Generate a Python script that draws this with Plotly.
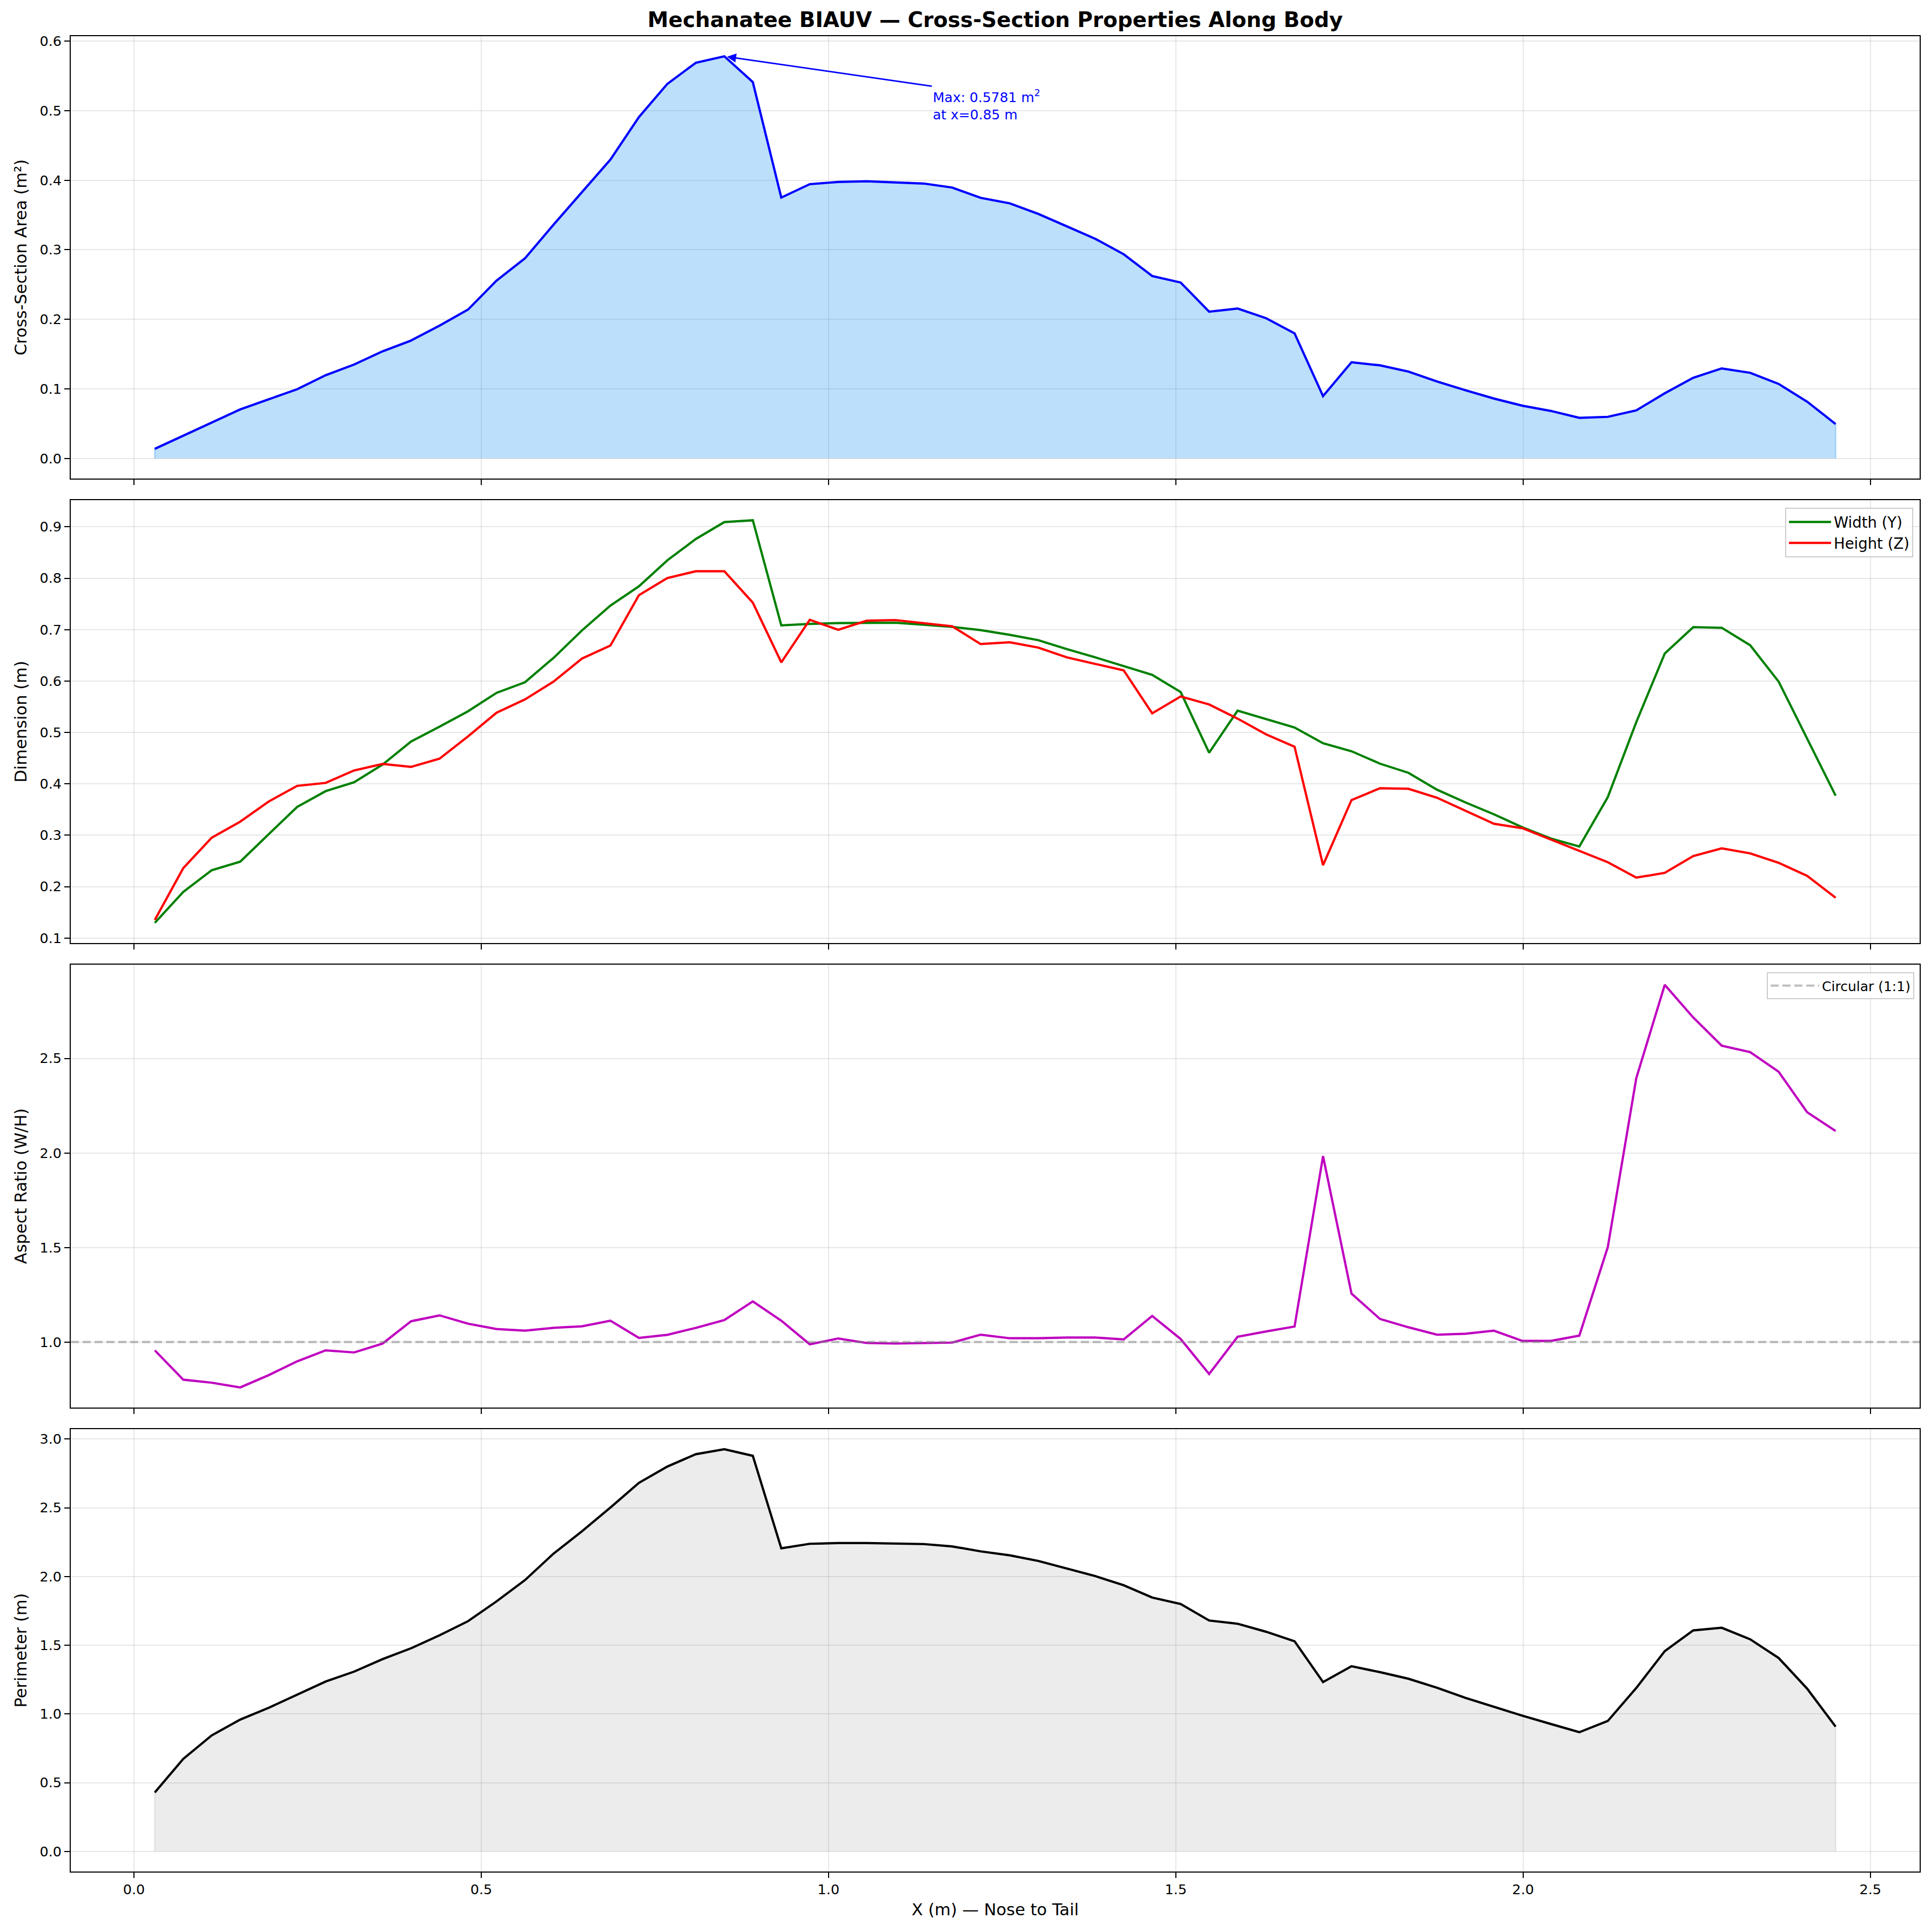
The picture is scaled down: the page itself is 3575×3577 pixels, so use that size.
import plotly.graph_objects as go

# ---------------- data ----------------
X_M = [0.030, 0.071, 0.112, 0.153, 0.194, 0.235, 0.276, 0.317, 0.358, 0.399,
       0.440, 0.481, 0.522, 0.563, 0.604, 0.645, 0.686, 0.727, 0.768, 0.809,
       0.850, 0.891, 0.932, 0.973, 1.014, 1.055, 1.096, 1.137, 1.178, 1.219,
       1.261, 1.302, 1.343, 1.384, 1.425, 1.466, 1.507, 1.548, 1.589, 1.630,
       1.671, 1.712, 1.753, 1.794, 1.835, 1.876, 1.917, 1.958, 1.999, 2.040,
       2.081, 2.122, 2.163, 2.204, 2.245, 2.286, 2.327, 2.368, 2.409, 2.450]

AREA_M2 = [0.0138, 0.0326, 0.0517, 0.0705, 0.0850, 0.0995, 0.1196, 0.1350, 0.1540, 0.1695,
           0.1910, 0.2140, 0.2556, 0.2877, 0.3360, 0.3830, 0.4296, 0.4907, 0.5385, 0.5688,
           0.5781, 0.5410, 0.3750, 0.3943, 0.3975, 0.3984, 0.3966, 0.3952, 0.3894, 0.3747,
           0.3667, 0.3515, 0.3337, 0.3158, 0.2935, 0.2623, 0.2529, 0.2110, 0.2155, 0.2016,
           0.1798, 0.0897, 0.1383, 0.1338, 0.1249, 0.1106, 0.0981, 0.0861, 0.0758, 0.0683,
           0.0584, 0.0598, 0.0691, 0.0937, 0.1160, 0.1294, 0.1231, 0.1071, 0.0816, 0.0495]

WIDTH_Y_M = [0.1294, 0.1898, 0.2319, 0.2486, 0.3020, 0.3551, 0.3857, 0.4030, 0.4375, 0.4824,
             0.5112, 0.5412, 0.5769, 0.5976, 0.6449, 0.6984, 0.7468, 0.7842, 0.8349, 0.8764,
             0.9092, 0.9127, 0.7082, 0.7111, 0.7128, 0.7134, 0.7134, 0.7094, 0.7053, 0.6990,
             0.6898, 0.6794, 0.6621, 0.6460, 0.6287, 0.6120, 0.5786, 0.4605, 0.5423, 0.5256,
             0.5095, 0.4790, 0.4634, 0.4392, 0.4214, 0.3886, 0.3638, 0.3407, 0.3154, 0.2935,
             0.2780, 0.3742, 0.5200, 0.6535, 0.7047, 0.7036, 0.6696, 0.5988, 0.4876, 0.3770]

HEIGHT_Z_M = [0.1351, 0.2359, 0.2952, 0.3263, 0.3655, 0.3960, 0.4018, 0.4260, 0.4387, 0.4329,
              0.4490, 0.4922, 0.5383, 0.5642, 0.5988, 0.6437, 0.6690, 0.7670, 0.8003, 0.8136,
              0.8136, 0.7525, 0.6362, 0.7191, 0.6996, 0.7174, 0.7186, 0.7122, 0.7065, 0.6719,
              0.6754, 0.6650, 0.6460, 0.6333, 0.6207, 0.5371, 0.5700, 0.5544, 0.5268, 0.4963,
              0.4721, 0.2417, 0.3684, 0.3914, 0.3903, 0.3730, 0.3482, 0.3223, 0.3137, 0.2918,
              0.2688, 0.2474, 0.2175, 0.2267, 0.2595, 0.2745, 0.2647, 0.2463, 0.2209, 0.1783]

ASPECT_WH = [0.956, 0.801, 0.785, 0.760, 0.825, 0.898, 0.956, 0.945, 0.992, 1.110,
             1.141, 1.097, 1.069, 1.060, 1.075, 1.083, 1.113, 1.022, 1.038, 1.075,
             1.116, 1.215, 1.113, 0.988, 1.019, 0.995, 0.992, 0.995, 0.997, 1.039,
             1.020, 1.020, 1.024, 1.024, 1.014, 1.138, 1.016, 0.831, 1.028, 1.056,
             1.082, 1.983, 1.256, 1.122, 1.078, 1.039, 1.044, 1.060, 1.006, 1.006,
             1.034, 1.502, 2.395, 2.889, 2.716, 2.567, 2.533, 2.429, 2.215, 2.116]

PERIMETER_M = [0.429, 0.673, 0.844, 0.959, 1.045, 1.141, 1.236, 1.308, 1.399, 1.478,
               1.572, 1.675, 1.819, 1.974, 2.166, 2.329, 2.502, 2.681, 2.800, 2.890,
               2.926, 2.878, 2.205, 2.238, 2.243, 2.243, 2.238, 2.236, 2.219, 2.183,
               2.154, 2.113, 2.058, 2.003, 1.936, 1.847, 1.800, 1.680, 1.656, 1.598,
               1.529, 1.232, 1.347, 1.304, 1.256, 1.191, 1.117, 1.052, 0.987, 0.927,
               0.867, 0.949, 1.189, 1.457, 1.608, 1.627, 1.543, 1.407, 1.184, 0.908]

CIRCULAR_RATIO = 1.0

TITLE = "Mechanatee BIAUV \u2014 Cross-Section Properties Along Body"
X_TITLE = "X (m) \u2014 Nose to Tail"
Y_TITLES = ["Cross-Section Area (m\u00b2)", "Dimension (m)", "Aspect Ratio (W/H)", "Perimeter (m)"]

# ---------------- layout constants ----------------
W, H = 3575, 3577
ML, MR, MT, MB = 131, 21, 67, 112
PH = H - MT - MB
FONT = "DejaVu Sans"
TICK_SIZE = 25.5
LABEL_SIZE = 30.5
TITLE_SIZE = 38.9
GRID = "rgba(176,176,176,0.3)"
LW = 4.2


def dom(top_px, bot_px):
    return [(H - MB - bot_px) / PH, (H - MB - top_px) / PH]


PANELS = [(67, 886), (926, 1746), (1786, 2606), (2646, 3465)]
YRANGES = [[-0.0289, 0.607], [0.0902, 0.9519], [0.6536, 2.9955], [-0.1463, 3.072]]
YDTICK = [0.1, 0.1, 0.5, 0.5]
XRANGE = [-0.091, 2.571]

fig = go.Figure()

# Panel 1: area fill + line
fx = [X_M[0]] + X_M + [X_M[-1]]
fig.add_trace(go.Scatter(x=fx, y=[0] + AREA_M2 + [0], fill="toself",
                         fillcolor="rgba(33,150,243,0.3)",
                         line=dict(color="rgba(33,150,243,0.3)", width=2.8),
                         mode="lines", showlegend=False, hoverinfo="skip",
                         xaxis="x", yaxis="y"))
fig.add_trace(go.Scatter(x=X_M, y=AREA_M2, mode="lines",
                         line=dict(color="blue", width=LW),
                         showlegend=False, xaxis="x", yaxis="y"))

# Panel 2: width / height
fig.add_trace(go.Scatter(x=X_M, y=WIDTH_Y_M, mode="lines", name="Width (Y)",
                         line=dict(color="green", width=LW), legend="legend",
                         xaxis="x2", yaxis="y2"))
fig.add_trace(go.Scatter(x=X_M, y=HEIGHT_Z_M, mode="lines", name="Height (Z)",
                         line=dict(color="red", width=LW), legend="legend",
                         xaxis="x2", yaxis="y2"))

# Panel 3: aspect ratio
fig.add_trace(go.Scatter(x=X_M, y=ASPECT_WH, mode="lines",
                         line=dict(color="#bf00bf", width=LW), showlegend=False,
                         xaxis="x3", yaxis="y3"))
fig.add_shape(type="line", xref="x3 domain", x0=0, x1=1, yref="y3",
              y0=CIRCULAR_RATIO, y1=CIRCULAR_RATIO,
              line=dict(color="rgba(128,128,128,0.5)", width=LW, dash="15px,7px"),
              showlegend=True, name="Circular (1:1)", legend="legend2")

# Panel 4: perimeter
fig.add_trace(go.Scatter(x=fx, y=[0] + PERIMETER_M + [0], fill="toself",
                         fillcolor="rgba(128,128,128,0.15)",
                         line=dict(color="rgba(128,128,128,0.15)", width=2.8),
                         mode="lines", showlegend=False, hoverinfo="skip",
                         xaxis="x4", yaxis="y4"))
fig.add_trace(go.Scatter(x=X_M, y=PERIMETER_M, mode="lines",
                         line=dict(color="black", width=LW), showlegend=False,
                         xaxis="x4", yaxis="y4"))

axis_common = dict(showgrid=True, gridcolor=GRID, gridwidth=2.2, zeroline=False,
                   ticks="outside", ticklen=9.7, tickwidth=2.2, tickcolor="black",
                   showline=True, linecolor="black", linewidth=2.2, mirror=True,
                   tickfont=dict(family=FONT, size=TICK_SIZE, color="black"),
                   automargin=False)

layout = dict(width=W, height=H, margin=dict(l=ML, r=MR, t=MT, b=MB),
              paper_bgcolor="white", plot_bgcolor="white",
              font=dict(family=FONT, color="black"))

names = ["", "2", "3", "4"]
for i, n in enumerate(names):
    xa = dict(axis_common, domain=[0, 1], range=XRANGE, tickmode="linear", tick0=0,
              dtick=0.5, tickformat=".1f", anchor="y" + n,
              showticklabels=(i == 3))
    if i > 0:
        xa["matches"] = "x"
    if i == 3:
        xa["title"] = dict(text=X_TITLE, font=dict(family=FONT, size=LABEL_SIZE, color="black"),
                           standoff=12)
    ya = dict(axis_common, domain=dom(*PANELS[i]), range=YRANGES[i], tickmode="linear",
              tick0=0, dtick=YDTICK[i], tickformat=".1f", anchor="x" + n,
              title=dict(text=Y_TITLES[i], font=dict(family=FONT, size=LABEL_SIZE, color="black"),
                         standoff=15))
    layout["xaxis" + n] = xa
    layout["yaxis" + n] = ya

layout["title"] = dict(text=TITLE, x=0.5, xref="paper", xanchor="center",
                       y=1 - 36.5 / H, yref="container", yanchor="middle",
                       font=dict(family=FONT, size=TITLE_SIZE, color="black", weight="bold"))

layout["legend"] = dict(x=(3542 - ML) / (W - ML - MR), xanchor="right",
                        y=(H - MB - 940) / PH, yanchor="top", itemwidth=78,
                        bgcolor="rgba(255,255,255,0.8)", bordercolor="#cccccc", borderwidth=2,
                        font=dict(family=FONT, size=27.5, color="black"))
layout["legend2"] = dict(x=(3544 - ML) / (W - ML - MR), xanchor="right",
                         y=(H - MB - 1800) / PH, yanchor="top", itemwidth=90,
                         bgcolor="rgba(255,255,255,0.8)", bordercolor="#cccccc", borderwidth=2,
                         font=dict(family=FONT, size=25, color="black"))

fig.update_layout(**layout)

# Max annotation (arrow from the text box to the peak)
peak = max(range(len(AREA_M2)), key=AREA_M2.__getitem__)
fig.add_annotation(x=X_M[peak], y=AREA_M2[peak], xref="x", yref="y",
                   ax=1.1487, ay=0.535, axref="x", ayref="y",
                   xanchor="left", yanchor="top", align="left",
                   text=f"Max: {AREA_M2[peak]:.4f} m<sup>2</sup><br>at x={X_M[peak]:.2f} m",
                   font=dict(family=FONT, size=25, color="blue"),
                   showarrow=True, arrowhead=2, arrowsize=1.2,
                   arrowwidth=2.8, arrowcolor="blue", standoff=5)

fig.write_html("out.html")
